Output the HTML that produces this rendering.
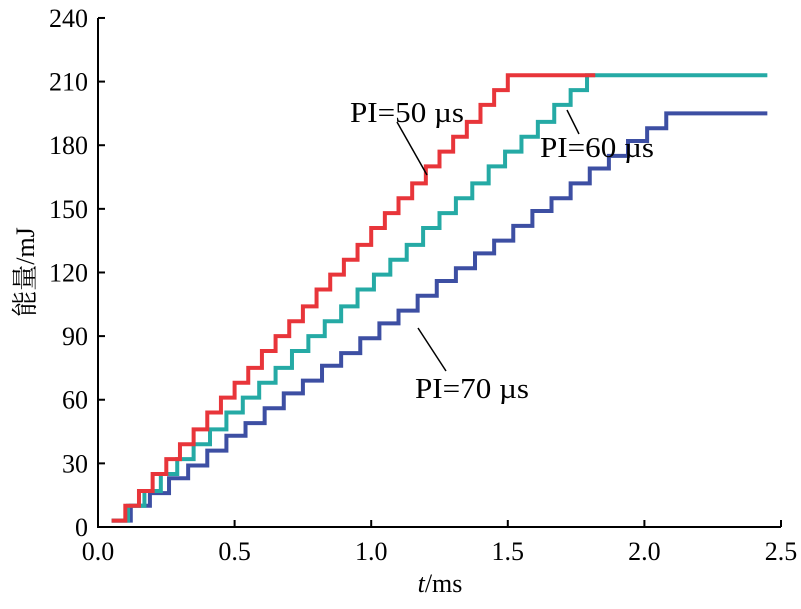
<!DOCTYPE html>
<html><head><meta charset="utf-8"><style>body{margin:0;background:#fff}svg text{font-family:"Liberation Serif","Noto Serif CJK SC",serif;fill:#000}</style></head>
<body>
<svg id="c" width="801" height="604"></svg>
<script>
const xTicks=[0,0.5,1.0,1.5,2.0,2.5];
const xTickLabels=["0.0","0.5","1.0","1.5","2.0","2.5"];
const yTicks=[0,30,60,90,120,150,180,210,240];
const seriesNames=["PI=50 µs","PI=60 µs","PI=70 µs"];
const startTimes=[0.05,0.05,0.05];
const intervals=[0.05,0.06,0.07];
const endTimes=[1.82,2.45,2.45];
const levels50=[3,10,17,25,32,39,46,54,61,68,75,83,90,97,104,112,119,126,133,141,148,155,162,170,177,184,191,199,206,213];
const levels60=[3,10,17,25,32,39,46,54,61,68,75,83,90,97,104,112,119,126,133,141,148,155,162,170,177,184,191,199,206,213];
const levels70=[3,10,16,23,29,36,43,49,56,63,69,76,82,89,96,102,109,116,122,129,135,142,149,155,162,169,175,182,188,195];
const colors=["#e8353a","#25aaa5","#3d4fa3"];
const NS="http://www.w3.org/2000/svg",svg=document.getElementById('c');
const X=v=>98+v*273.2, Y=v=>527-v*2.121;
function mk(t,a,p){const e=document.createElementNS(NS,t);for(const k in a)e.setAttribute(k,a[k]);(p||svg).appendChild(e);return e;}
const series=[levels50,levels60,levels70];
[2,1,0].forEach(i=>{
  const L=series[i];let t=startTimes[i];let d=`M${X(t)},${Y(L[0])}`;
  for(let k=1;k<L.length;k++){t=startTimes[i]+k*intervals[i];d+=` H${X(t)} V${Y(L[k])}`;}
  d+=` H${X(endTimes[i])}`;
  const p=mk('path',{d:d,fill:'none',stroke:colors[i],'stroke-width':4});
  
  
});
const ax=mk('path',{d:`M98,18 V527 H781`,fill:'none',stroke:'#000','stroke-width':2});


yTicks.forEach(v=>{
  const l=mk('line',{x1:98,x2:105,y1:Y(v),y2:Y(v),stroke:'#000','stroke-width':2});
  
  
  const t=mk('text',{x:88,y:Y(v)+9,'text-anchor':'end','font-size':26});t.textContent=v;
  
  
});
xTicks.forEach((v,i)=>{
  const l=mk('line',{x1:X(v),x2:X(v),y1:527,y2:520,stroke:'#000','stroke-width':2});
  
  
  const t=mk('text',{x:X(v),y:560,'text-anchor':'middle','font-size':26});t.textContent=xTickLabels[i];
  
  
});
const xt=mk('text',{x:440,y:592,'text-anchor':'middle','font-size':26});xt.innerHTML='<tspan font-style="italic">t</tspan>/ms';


const yt=mk('text',{x:0,y:0,'text-anchor':'middle','font-size':26,transform:'translate(34,272) rotate(-90)'});yt.textContent='能量/mJ';


const ann=[[350,122,397,122,427,175],[540,157,567,110,579,134],[415,398,418,328,446,371]];
ann.forEach((a,i)=>{
  const t=mk('text',{x:a[0],y:a[1],'font-size':28,textLength:114,lengthAdjust:'spacingAndGlyphs'});t.textContent=seriesNames[i];
  
  
  const l=mk('line',{x1:a[2],y1:a[3],x2:a[4],y2:a[5],stroke:'#000','stroke-width':1.5});
  
  
});
</script>
</body></html>
